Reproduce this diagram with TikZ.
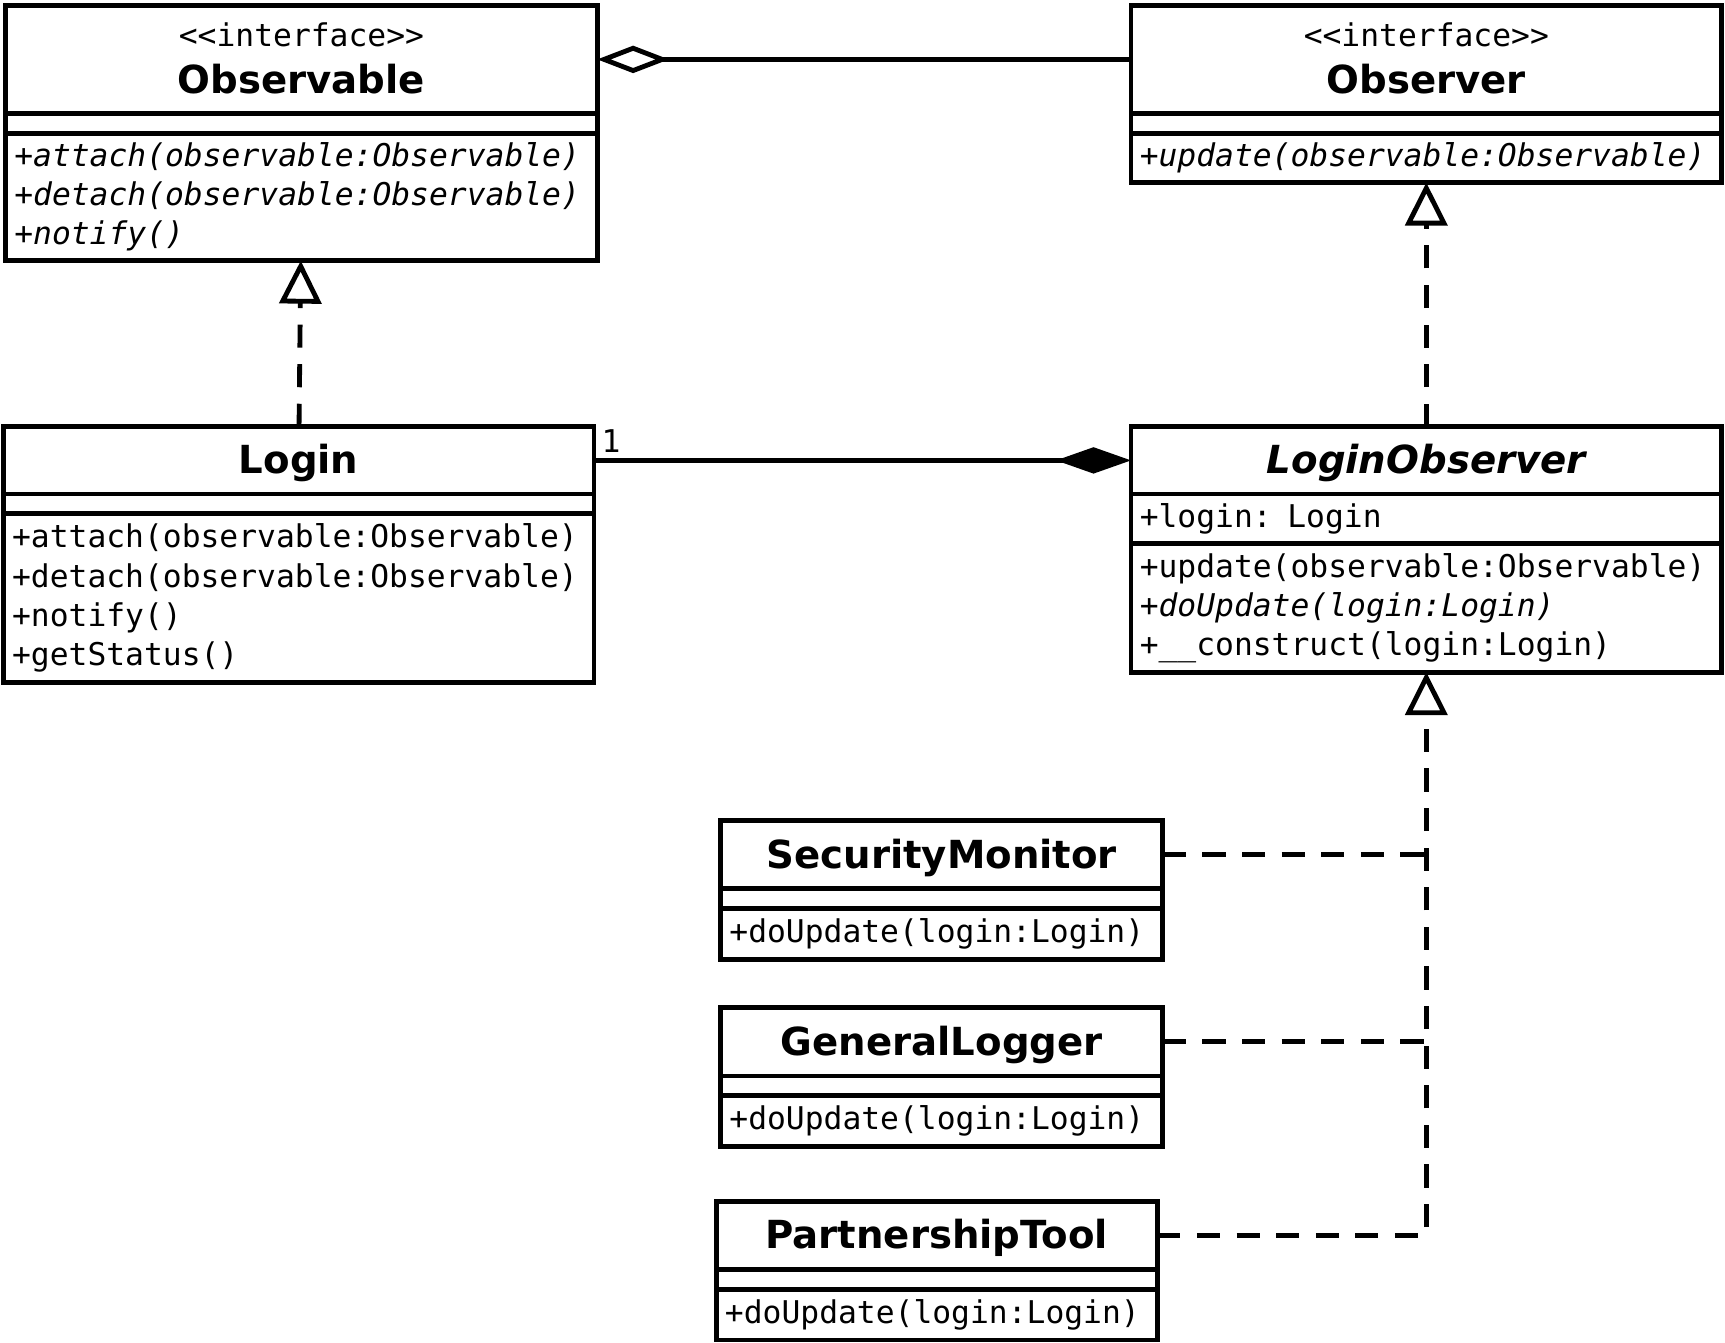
\documentclass[tikz,border=0pt]{standalone}
\usepackage{fontspec}
\setmainfont{DejaVu Sans}
\setmonofont{DejaVu Sans Mono}
\usepackage{tikz}
\usetikzlibrary{arrows.meta, positioning}

\newcommand{\memberfont}{\ttfamily\fontsize{16.2}{20.2}\selectfont}
\newcommand{\classfont}{\bfseries\fontsize{20}{24}\selectfont}

\begin{document}
\begin{tikzpicture}[
    classhead/.style={draw, line width=2.5pt, outer sep=0pt, minimum width=#1, minimum height=1.22cm, inner sep=0pt, text depth=0.05cm, font=\classfont},
    classattr/.style={draw, line width=2.5pt, outer sep=0pt, minimum width=#1, minimum height=0.36cm, inner sep=0pt},
    classops/.style={draw, line width=2.5pt, outer sep=0pt, text width=#1, inner xsep=0.16cm, inner ysep=0pt, align=left, font=\memberfont},
    realize/.style={line width=2.5pt, dash pattern=on 0.42cm off 0.3cm, -{Triangle[open, length=0.78cm, width=0.76cm]}},
    aggregation/.style={line width=2.5pt, -{Diamond[open, length=1.3cm, width=0.5cm]}},
    composition/.style={line width=2.5pt, -{Diamond[length=1.36cm, width=0.48cm]}}
]
            \useasboundingbox (0,0) rectangle (31.36,-24.4);

            % Observable
            \node[classhead=10.76cm, minimum height=1.96cm, align=center, anchor=north west] (observable) at (0.1,-0.1) {{\memberfont\mdseries <<interface>>}\\Observable};
            \node[classattr=10.76cm, below=0pt of observable] (observable_attr) {};
            \node[classops=10.44cm, minimum height=2.32cm, below=0pt of observable_attr] (observable_ops) {\itshape +attach(observable:Observable)\\+detach(observable:Observable)\\+notify()};

            % Observer
            \node[classhead=10.74cm, minimum height=1.96cm, align=center, anchor=north west] (observer) at (20.56,-0.1) {{\memberfont\mdseries <<interface>>}\\Observer};
            \node[classattr=10.74cm, below=0pt of observer] (observer_attr) {};
            \node[classops=10.42cm, minimum height=0.9cm, below=0pt of observer_attr] (observer_ops) {\itshape +update(observable:Observable)};

            % Login
            \node[classhead=10.74cm, anchor=north west] (login) at (0.06,-7.76) {Login};
            \node[classattr=10.74cm, below=0pt of login] (login_attr) {};
            \node[classops=10.42cm, minimum height=3.06cm, below=0pt of login_attr] (login_ops) {+attach(observable:Observable)\\+detach(observable:Observable)\\+notify()\\+getStatus()};

            % LoginObserver
            \node[classhead=10.74cm, anchor=north west] (loginobserver) at (20.56,-7.76) {\itshape LoginObserver};
            \node[classops=10.42cm, minimum height=0.9cm, below=0pt of loginobserver] (loginobserver_attr) {+login: Login};
            \node[classops=10.42cm, minimum height=2.34cm, below=0pt of loginobserver_attr] (loginobserver_ops) {+update(observable:Observable)\\{\itshape +doUpdate(login:Login)}\\+\_\_construct(login:Login)};

            % SecurityMonitor
            \node[classhead=8.04cm, minimum height=1.24cm, anchor=north west] (securitymonitor) at (13.1,-14.92) {SecurityMonitor};
            \node[classattr=8.04cm, below=0pt of securitymonitor] (securitymonitor_attr) {};
            \node[classops=7.72cm, minimum height=0.92cm, below=0pt of securitymonitor_attr] (securitymonitor_ops) {+doUpdate(login:Login)};

            % GeneralLogger
            \node[classhead=8.04cm, minimum height=1.24cm, anchor=north west] (generallogger) at (13.1,-18.32) {GeneralLogger};
            \node[classattr=8.04cm, below=0pt of generallogger] (generallogger_attr) {};
            \node[classops=7.72cm, minimum height=0.92cm, below=0pt of generallogger_attr] (generallogger_ops) {+doUpdate(login:Login)};

            % PartnershipTool
            \node[classhead=8.02cm, minimum height=1.24cm, anchor=north west] (partnershiptool) at (13.02,-21.84) {PartnershipTool};
            \node[classattr=8.02cm, below=0pt of partnershiptool] (partnershiptool_attr) {};
            \node[classops=7.70cm, minimum height=0.92cm, below=0pt of partnershiptool_attr] (partnershiptool_ops) {+doUpdate(login:Login)};

            % Aggregation Observer -> Observable
            \draw[aggregation] (observer) -- (observable);

            % Composition Login -> LoginObserver
            \draw[composition] (login) -- node[pos=0, above right=1pt, inner sep=2pt, font=\memberfont] (mult) {1} (loginobserver);

            % Realizations
            \draw[realize] (login) -- (observable_ops);
            \draw[realize] (loginobserver) -- (observer_ops);

            % Subclasses of LoginObserver
            \coordinate (join_sec) at (securitymonitor -| loginobserver_ops);
            \coordinate (join_gen) at (generallogger -| loginobserver_ops);
            \draw[line width=2.5pt, dash pattern=on 0.42cm off 0.3cm] (securitymonitor) -- (join_sec);
            \draw[line width=2.5pt, dash pattern=on 0.42cm off 0.3cm] (generallogger) -- (join_gen);
            \draw[realize] (partnershiptool) -| (loginobserver_ops);

        \end{tikzpicture}
\end{document}
